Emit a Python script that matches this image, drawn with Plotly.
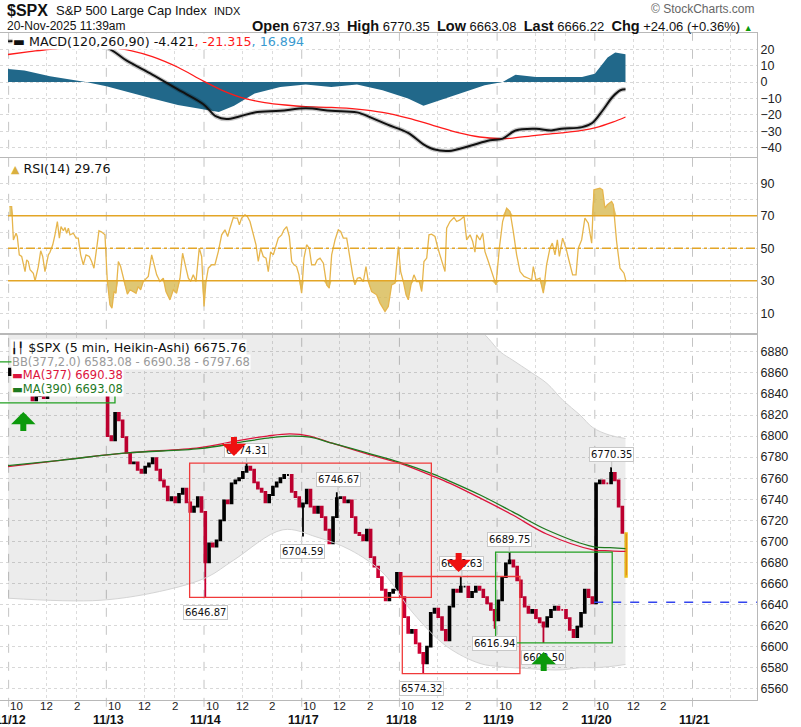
import plotly.graph_objects as go
from plotly.subplots import make_subplots

W, H = 801, 727
PLOT_R = 757  # right edge of the panels (px)

day_labels = ["11/12", "11/13", "11/14", "11/17", "11/18", "11/19", "11/20", "11/21"]
bars_per_day = 78  # 5-min bars, 9:30 - 16:00
x_range = [-6.4, 598]
price_range = [6549.3, 6896]

# Heikin-Ashi closes read every 15 minutes, one list per session
first_open = 6858
closes = [
    [6864, 6858, 6856, 6848, 6842, 6840, 6834, 6838, 6842, 6836, 6842, 6848, 6856,
     6858, 6860, 6862, 6858, 6860, 6856, 6850, 6852, 6846, 6840, 6848, 6854, 6850],
    [6800, 6796, 6822, 6815, 6799, 6784, 6774, 6775, 6768, 6765, 6771, 6774, 6779,
     6768, 6758, 6752, 6739, 6742, 6737, 6745, 6750, 6737, 6728, 6733, 6742, 6728],
    [6680, 6698, 6695, 6701, 6720, 6739, 6736, 6755, 6758, 6760, 6766, 6771, 6768,
     6756, 6750, 6747, 6737, 6744, 6752, 6756, 6760, 6763, 6763, 6747, 6742, 6733],
    [6736, 6749, 6733, 6727, 6733, 6723, 6711, 6698, 6723, 6741, 6742, 6737, 6739,
     6723, 6708, 6706, 6701, 6711, 6685, 6676, 6666, 6654, 6644, 6651, 6654, 6670],
    [6647, 6628, 6613, 6616, 6603, 6594, 6584, 6600, 6632, 6636, 6628, 6616, 6606,
     6638, 6654, 6652, 6657, 6657, 6647, 6652, 6657, 6654, 6647, 6641, 6635, 6625],
    [6644, 6666, 6679, 6682, 6676, 6663, 6647, 6638, 6632, 6635, 6627, 6623, 6619,
     6628, 6635, 6638, 6635, 6635, 6627, 6616, 6609, 6619, 6632, 6654, 6647, 6641],
    [6755, 6758, 6755, 6755, 6765, 6758, 6733, 6708, 6666.22],
]

# labelled swing highs / lows (bar index, price)
high_bar = [190.5, 263.5, 362.4, 400.2, 482.0]
high_px = [6774.31, 6746.67, 6666.63, 6689.75, 6770.35]
low_bar = [157.3, 235.5, 330.5, 388.8, 427.4]
low_px = [6646.87, 6704.59, 6574.32, 6616.94, 6603.50]

prev_close = 6642.16

ma_bar = [0, 41.5, 95, 153, 185, 207, 225, 241, 259.5, 286.6, 313, 339, 353, 377, 403, 430, 467, 480.6, 493]
ma377 = [6771, 6777, 6784, 6789, 6796, 6800, 6802, 6800, 6793, 6783, 6774, 6762, 6755, 6741, 6725, 6707, 6692, 6691, 6690.38]
ma390 = [6772, 6777, 6784, 6788, 6794, 6798, 6800, 6799, 6793, 6784, 6775, 6764, 6757, 6744, 6728, 6711, 6695, 6694, 6693.08]

bb_bar = [0, 73.4, 127, 159, 180, 219.5, 246.7, 273, 299.4, 323.3, 350.5, 376.8, 393, 403.1, 417,
          430.3, 443, 456.7, 467, 480, 493]
bb_upper = [6904, 6908, 6910, 6910, 6910, 6908, 6908, 6910, 6912, 6912, 6910, 6900, 6880, 6872, 6861,
            6850, 6834, 6820, 6808, 6801, 6797.68]
bb_lower = [6646, 6644, 6654, 6666, 6682, 6711, 6704, 6692, 6670, 6632, 6600, 6584, 6581, 6580, 6579,
            6578, 6578, 6580, 6580, 6581, 6583.08]

macd_bar = [0, 17, 33.5, 54, 78.5, 94.8, 115.2, 135.6, 156, 166.2, 174.4, 184.6, 196.9, 217.3, 237.7,
            258.1, 278.6, 290.8, 303.1, 319.4, 331.7, 339.8, 352.1, 368.4, 384.8, 395, 405.2, 421.5,
            433.8, 441.9, 458.3, 466.4, 474.6, 482.8, 488.9, 493]
macd_val = [24.8, 25.5, 23.5, 21.8, 21, 13, 4.5, -4.5, -13.5, -21, -22.6, -21, -18.5, -17.5, -16,
            -17.5, -18.5, -22, -26, -31, -38, -41, -42, -39, -35.5, -34.5, -29.5, -28.5,
            -29.5, -28.5, -27.5, -25, -17.5, -9, -5, -4.421]
sig_bar = [0, 17.2, 33.5, 53.9, 82.5, 98.8, 115.2, 135.6, 156, 172.4, 188.7, 205, 221.4, 237.7, 258.1,
           278.6, 299, 319.4, 339.8, 360.2, 376.6, 392.9, 401.1, 421.5, 441.9, 458.3, 468.5, 482.8, 493]
sig_val = [16.8, 18.5, 20, 21, 21, 19, 15.5, 9, 0.6, -5.5, -10, -12.5, -14, -15, -15.5,
           -16.5, -18.5, -22, -26.5, -31, -33.5, -34.5, -34.3, -32.5, -31, -29.5, -28, -24.5, -21.315]
hist_bar = [0, 13.1, 33.5, 53.9, 62.1, 78.5, 94.8, 115.2, 135.6, 156, 168.3, 180.5, 196.9, 217.3, 237.7,
            258.1, 278.6, 299, 319.4, 331.7, 339.8, 360.2, 380.6, 395, 405.2, 421.5, 441.9, 458.3,
            468.5, 478.7, 484.8, 493]
hist_val = [8, 7, 3.5, 1, 0, -2.5, -6, -10, -14, -16.5, -18.3, -14.5, -7, -3, -1.5,
            -3, -1.5, -5, -10, -14.5, -12.5, -7, -2, 0, 4.5, 3, 3, 3,
            5, 15, 18, 16.894]

rsi_bar = [1.1, 2.9, 4.3, 6.4, 7.4, 9.0, 10.9, 13.6, 14.9, 16.2, 17.6, 20.2, 21.6, 24.2, 26.1, 27.7,
           29.5, 32.2, 33.5, 35.7, 37.5, 39.4, 41.0, 42.3, 44.2, 45.5, 46.8, 48.2, 49.5, 52.2, 54.3,
           56.1, 58.0, 60.1, 62.3, 64.9, 66.8, 68.6, 70.8, 72.6, 74.8, 77.4, 79.3, 81.4, 83.0, 84.6,
           86.2, 88.1, 89.9, 92.1, 95.3, 97.4, 99.5, 102.2, 104.0, 105.9, 108.0, 110.2, 112.0, 114.7,
           116.5, 118.7, 121.3, 124.0, 126.1, 129.3, 132.0, 134.6, 137.3, 139.4, 141.8, 144.0, 145.8,
           147.9, 150.1, 152.7, 154.6, 156.5, 158.1, 159.9, 162.6, 165.2, 167.9, 170.6, 173.2, 175.4,
           177.2, 179.9, 181.2, 183.1, 184.7, 186.5, 189.2, 191.1, 193.2, 195.8, 198.0, 199.8, 201.7,
           203.8, 206.0, 207.8, 209.7, 211.8, 214.0, 215.8, 218.5, 220.3, 222.5, 224.6, 226.5, 228.3,
           230.4, 232.3, 234.4, 236.3, 238.4, 240.5, 242.4, 245.1, 246.9,
           249.1, 251.8, 254.4, 256.5, 258.4, 261.1, 263.7, 265.6, 267.7, 270.4, 272.5, 275.2, 277.0,
           278.9, 281.0, 283.7, 285.8, 287.7, 290.3, 294.3, 297.0, 301.0, 303.6, 306.3, 309.0, 311.6,
           313.5, 315.6, 317.8, 319.6, 321.7, 324.1, 326.3, 328.4, 330.3, 332.1, 334.3, 336.1, 338.2,
           340.9, 343.6, 346.2, 348.9, 350.2, 352.9, 356.1, 358.2, 360.9, 364.1, 366.2, 368.9, 371.0,
           372.8, 374.2, 376.8, 379.0, 380.8, 383.5, 386.1, 389.6, 392.3, 394.9, 398.1, 400.8, 403.4,
           406.1, 408.8, 412.0, 415.4, 418.1, 419.4, 421.5, 424.7, 427.4, 430.0, 432.7, 434.6, 436.7,
           438.6, 440.2, 442.8, 445.5, 448.1, 450.8, 453.5, 455.3, 458.0, 460.6, 463.3, 466.0, 467.8,
           472.6, 474.7, 476.6, 478.5, 481.9, 483.3, 485.9, 488.6, 491.8, 493.4]
rsi_val = [75.7, 75.7, 55.2, 59.3, 57.3, 46, 45, 35.7, 42.9, 41.9, 36.8, 34.7, 30, 38.8, 48.5, 45,
           35.7, 46, 47.6, 52.2, 58.3, 66.5, 56.3, 63.4, 60.8, 62.8, 59.3, 62.4, 58.3, 59.3, 56.3,
           56.3, 46, 39.9, 46, 45, 41.9, 37.8, 50.1, 60.8, 60, 58.3, 29.6, 15.2, 13.2, 23.4,
           22.4, 41.9, 38.8, 31.6, 21.8, 24.5, 23.4, 22.4, 26.5, 24.5, 29.6, 31.6, 32.7, 46,
           39.9, 33.7, 29.6, 31.6, 23.4, 18.3, 24.5, 22.4, 31.6, 47, 38.8, 31.6, 29.6,
           33.7, 29.6, 50.1, 45, 14.2, 29.6, 37.8, 39.9, 39.9, 48, 58.3, 61.4, 57.3,
           62.4, 69, 68.6, 68.6, 64.5, 68.6, 70.6, 69.6, 66.5, 58.3, 52.2, 41.9, 50.1,
           45, 44, 35.7, 47.8, 46, 52.2, 56.3, 58.3, 61.4, 63.4, 57.3, 41.9, 39.9,
           38.8, 33.7, 22.4, 44, 52.2, 50.1, 39.9, 39.9, 42.9,
           44, 40.9, 27.5, 25.5, 46, 55.2, 61.4, 60.4, 56.3, 56.3, 46, 33.7, 27.5,
           31.6, 32, 29.6, 38.8, 29.6, 23.4, 21.4, 16.3, 11.1, 14.2, 27.5, 28.6, 51.1,
           35.7, 29.6, 21.4, 18.3, 27.5, 33.7, 29.6, 29.6, 23.4, 41.9, 44, 58.3, 58.7,
           57.3, 49.1, 41.9, 35.7, 62.4, 66.5, 69, 66.5, 67.5, 69.6, 55.2, 58.3, 54.2,
           47.6, 58.3, 55.2, 59.3, 48, 41.9, 35.7, 27.5, 50.1, 66.5, 74.7, 72.7, 60.4,
           46, 35.7, 32.7, 31.6, 30.6, 38.8, 30.6, 31.6, 22.4, 39.9, 50.1, 53.2, 46,
           55.2, 45, 56.3, 50.1, 41.9, 33.7, 33.7, 50.1, 55.2, 68.6, 65.5, 53.2, 86,
           87, 86, 74.7, 76.8, 78.8, 76.8, 54.2, 37.8, 34.7, 29.76]

# pattern boxes: bar from / to, price low / high
box_x0 = [-7, 145, 314.8, 389.3]
box_x1 = [85.4, 338, 408.7, 482.4]
box_lo = [6831.5, 6646.87, 6574.32, 6603.50]
box_hi = [6870.5, 6774.31, 6666.63, 6689.75]
box_col = ["#22a022", "#f03a3a", "#f03a3a", "#22a022"]

# buy / sell arrows (tip position)
arrow_bar = [12.2, 180.4, 359.8, 427.7]
arrow_px = [6822.8, 6781, 6670.8, 6595]
arrow_dir = ["up", "down", "down", "up"]


def py(p):
    return 1 - p / H


def px(p):
    return p / W


# candles
cx, co, ch, cl, cc = [], [], [], [], []
prev = first_open
for d, day in enumerate(closes):
    for k, c in enumerate(day):
        cx.append(d * bars_per_day + 3 * k + 1.5)
        co.append(prev)
        cc.append(c)
        ch.append(max(prev, c))
        cl.append(min(prev, c))
        prev = c
for b, p in zip(high_bar, high_px):
    i = int(b // bars_per_day) * 26 + int((b % bars_per_day) // 3)
    ch[i] = max(ch[i], p)
for b, p in zip(low_bar, low_px):
    i = int(b // bars_per_day) * 26 + int((b % bars_per_day) // 3)
    cl[i] = min(cl[i], p)

UP, DOWN = "#000000", "#cc0033"
RSI_C, RSI_FILL, RSI_LVL = "#e6b54c", "rgba(212,180,70,0.75)", "#e3a526"

fig = make_subplots(rows=3, cols=1, shared_xaxes=True)

# ---- MACD
fig.add_trace(go.Scatter(x=hist_bar, y=hist_val, mode="lines", fill="tozeroy",
                         fillcolor="#21688a", line=dict(color="#21688a", width=0)), row=1, col=1)
fig.add_trace(go.Scatter(x=sig_bar, y=sig_val, mode="lines",
                         line=dict(color="#ff1a1a", width=1.3, shape="spline")), row=1, col=1)
fig.add_trace(go.Scatter(x=macd_bar, y=macd_val, mode="lines",
                         line=dict(color="rgba(0,0,0,0.22)", width=4.5, shape="spline")), row=1, col=1)
fig.add_trace(go.Scatter(x=macd_bar, y=macd_val, mode="lines",
                         line=dict(color="#111111", width=2, shape="spline")), row=1, col=1)

# ---- RSI
for lvl, clip in ((70, max), (30, min)):
    fig.add_trace(go.Scatter(x=rsi_bar, y=[lvl] * len(rsi_bar), mode="lines",
                             line=dict(width=0)), row=2, col=1)
    fig.add_trace(go.Scatter(x=rsi_bar, y=[clip(v, lvl) for v in rsi_val], mode="lines",
                             fill="tonexty", fillcolor=RSI_FILL, line=dict(width=0)), row=2, col=1)
fig.add_trace(go.Scatter(x=rsi_bar, y=rsi_val, mode="lines",
                         line=dict(color=RSI_C, width=1.3)), row=2, col=1)

# ---- price
fig.add_trace(go.Scatter(x=bb_bar, y=bb_upper, mode="lines",
                         line=dict(color="#d4d4d4", width=1, shape="spline")), row=3, col=1)
fig.add_trace(go.Scatter(x=bb_bar, y=bb_lower, mode="lines", fill="tonexty",
                         fillcolor="rgba(0,0,0,0.075)",
                         line=dict(color="#d4d4d4", width=1, shape="spline")), row=3, col=1)
fig.add_trace(go.Scatter(x=ma_bar, y=ma377, mode="lines",
                         line=dict(color="#dc143c", width=1.3, shape="spline")), row=3, col=1)
fig.add_trace(go.Scatter(x=ma_bar, y=ma390, mode="lines",
                         line=dict(color="#1f7a1f", width=1.3, shape="spline")), row=3, col=1)
fig.add_trace(go.Candlestick(x=cx[:-1], open=co[:-1], high=ch[:-1], low=cl[:-1], close=cc[:-1],
                             increasing=dict(line=dict(color=UP, width=1.8), fillcolor=UP),
                             decreasing=dict(line=dict(color=DOWN, width=1.8), fillcolor=DOWN),
                             whiskerwidth=0), row=3, col=1)
fig.add_trace(go.Candlestick(x=cx[-1:], open=co[-1:], high=ch[-1:], low=cl[-1:], close=cc[-1:],
                             increasing=dict(line=dict(color="#f0c419", width=1.5), fillcolor=UP),
                             decreasing=dict(line=dict(color="#f0c419", width=1.5), fillcolor=DOWN),
                             whiskerwidth=0), row=3, col=1)

shapes = []
annos = []

# day separators, previous close, RSI levels, pattern boxes
for d in range(len(day_labels)):
    shapes.append(dict(type="line", xref="x3", yref="paper", x0=d * bars_per_day + 0.5,
                       x1=d * bars_per_day + 0.5, y0=0.003, y1=py(33), layer="below",
                       line=dict(color="#c4c4c4", width=1, dash="dash")))
shapes.append(dict(type="line", xref="x3", yref="y3", x0=6 * bars_per_day, x1=x_range[1],
                   y0=prev_close, y1=prev_close, line=dict(color="#3344ee", width=1.6, dash="dash")))
for lvl, dash in ((70, "solid"), (30, "solid"), (50, "dashdot")):
    shapes.append(dict(type="line", xref="x2", yref="y2", x0=0, x1=x_range[1], y0=lvl, y1=lvl,
                       line=dict(color=RSI_LVL, width=1.5, dash=dash)))
for x0, x1, lo, hi, col in zip(box_x0, box_x1, box_lo, box_hi, box_col):
    shapes.append(dict(type="rect", xref="x3", yref="y3", x0=x0, x1=x1, y0=lo, y1=hi,
                       line=dict(color=col, width=1.3)))

# swing labels
for b, p in zip(high_bar, high_px):
    annos.append(dict(x=b, y=p, xref="x3", yref="y3", text="{:.2f}".format(p), showarrow=True,
                      ax=0, ay=-13, arrowhead=0, arrowwidth=1, arrowcolor="#c0c0c0",
                      bgcolor="white", bordercolor="#c8c8c8", borderwidth=1, borderpad=1,
                      font=dict(family="DejaVu Sans", size=10, color="#111")))
for b, p in zip(low_bar, low_px):
    annos.append(dict(x=b, y=p, xref="x3", yref="y3", text="{:.2f}".format(p), showarrow=True,
                      ax=0, ay=15, arrowhead=0, arrowwidth=1, arrowcolor="#c0c0c0",
                      bgcolor="white", bordercolor="#c8c8c8", borderwidth=1, borderpad=1,
                      font=dict(family="DejaVu Sans", size=10, color="#111")))

# buy / sell arrows, drawn after the labels so they sit on top of them
for b, p, dr in zip(arrow_bar, arrow_px, arrow_dir):
    annos.append(dict(x=b, y=p, xref="x3", yref="y3", text=" ", showarrow=True, ax=0,
                      ay=-21 if dr == "down" else 21, arrowhead=1, arrowsize=0.68, arrowwidth=6,
                      standoff=0, font=dict(size=1),
                      arrowcolor="#ee1111" if dr == "down" else "#0c990c"))

# time ticks and dates under the price panel
for d, lab in enumerate(day_labels):
    if d < len(day_labels) - 1:
        for off, t in ((7, "10"), (31, "12"), (55, "2")):
            annos.append(dict(x=d * bars_per_day + off, y=py(706), xref="x3", yref="paper",
                              yanchor="middle", text=t, showarrow=False,
                              font=dict(family="Liberation Sans", size=11.5, color="#222")))
    annos.append(dict(x=d * bars_per_day + 2, y=py(719.5), xref="x3", yref="paper", yanchor="middle",
                      text="<b>" + lab + "</b>", showarrow=False,
                      font=dict(family="Liberation Sans", size=12.5, color="#111")))


def label(x, y, text, size=12, family="DejaVu Sans", color="#111", anchor="left", bg=None):
    d = dict(x=px(x), y=py(y), xref="paper", yref="paper", text=text, showarrow=False,
             xanchor=anchor, yanchor="middle", font=dict(family=family, size=size, color=color))
    if bg:
        d.update(bgcolor=bg, borderpad=0)
    annos.append(d)


HDR = "Liberation Sans"
label(5, 10.5, "<b>$SPX</b>", 16, HDR)
label(54, 10.5, "S&amp;P 500 Large Cap Index", 13, HDR)
label(212, 10.5, "INDX", 11, HDR)
label(PLOT_R, 9, "© StockCharts.com", 12, HDR, "#666", "right")
label(5, 26, "20-Nov-2025 11:39am", 12, HDR)
B = "<span style='font-size:14.5px'><b>{}</b></span>"
label(PLOT_R - 2, 26,
      B.format("Open") + " 6737.93  " + B.format("High") + " 6770.35  " + B.format("Low")
      + " 6663.08  " + B.format("Last") + " 6666.22  " + B.format("Chg")
      + " +24.06 (+0.36%) <span style='color:#0a9a0a;font-size:9px'>▲</span>", 13, HDR, "#111", "right")

label(12, 41, "▬ MACD(120,260,90) -4.421<span style='color:#ff1a1a'>, -21.315</span>"
      "<span style='color:#3a9ad0'>, 16.894</span>", 12.7, bg="white")
label(10, 168, "<span style='color:#d9b040;font-size:11px'>▲</span> RSI(14) 29.76", 12.7, bg="white")
label(10, 347, "<span style='font-size:11px'>╽╿</span> $SPX (5 min, Heikin-Ashi) 6675.76", 12.7, bg="white")
label(11, 362, "BB(377,2.0) 6583.08 - 6690.38 - 6797.68", 11.5, color="#9a9a9a", bg="white")
label(11, 375, "▬MA(377) 6690.38", 11.5, color="#dc143c", bg="white")
label(11, 389, "▬MA(390) 6693.08", 11.5, color="#1f7a1f", bg="white")

# axes
xcommon = dict(range=x_range, domain=[0, px(PLOT_R)], showline=True, mirror=True, linecolor="#b8b8b8",
               showgrid=False, zeroline=False, showticklabels=False, ticks="",
               rangeslider=dict(visible=False),
               minor=dict(tickvals=[d * bars_per_day + o for d in range(8) for o in (31, 55)],
                          showgrid=True, gridcolor="#dcdcdc", griddash="dot", ticks=""))
fig.update_xaxes(**xcommon)

ycommon = dict(side="right", showline=True, linecolor="#b8b8b8", zeroline=False, ticks="",
               showgrid=True, gridcolor="#d8d8d8", griddash="dot",
               tickfont=dict(family=HDR, size=12.5, color="#222"))
fig.update_yaxes(**ycommon)
fig.update_yaxes(range=[-45.7, 29.9], tickvals=[20, 10, 0, -10, -20, -30, -40],
                 domain=[py(157), py(33)], row=1, col=1)
fig.update_yaxes(range=[-2.1, 105.6], tickvals=[10, 30, 50, 70, 90], domain=[py(333), py(158)],
                 minor=dict(tickvals=[20, 40, 60, 80], showgrid=True, gridcolor="#dcdcdc", griddash="dot"),
                 row=2, col=1)
fig.update_yaxes(range=price_range, tickvals=list(range(6560, 6881, 20)),
                 domain=[py(700), py(335)], row=3, col=1)

fig.update_layout(width=W, height=H, margin=dict(l=0, r=0, t=0, b=0), showlegend=False,
                  paper_bgcolor="white", plot_bgcolor="white", shapes=shapes, annotations=annos,
                  hovermode=False)

fig.write_html("out.html", config={"displayModeBar": False},
               post_script="document.body.style.margin='0';")
